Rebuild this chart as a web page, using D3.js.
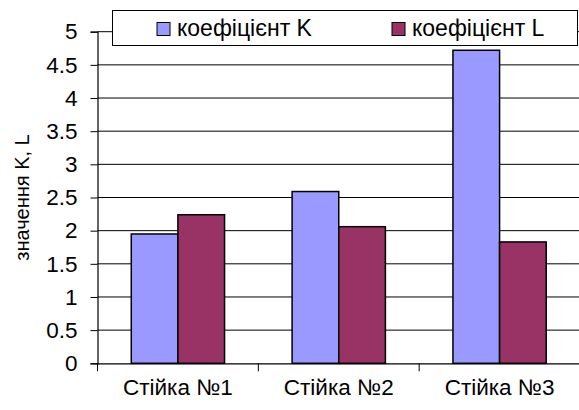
<!DOCTYPE html>
<html>
<head>
<meta charset="utf-8">
<script src="https://cdn.jsdelivr.net/npm/d3@7"></script>
<style>
  html, body { margin: 0; padding: 0; background: #fff; }
  svg { display: block; font-family: "Liberation Sans", Arial, sans-serif; }
</style>
</head>
<body>
<svg id="chart" width="579" height="410"></svg>
<script>
// Coefficient values per stand
const categories = ["Стійка №1", "Стійка №2", "Стійка №3"];
const seriesNames = ["коефіцієнт K", "коефіцієнт L"];
const valuesK = [1.95, 2.59, 4.72];
const valuesL = [2.24, 2.06, 1.83];
const yTicks = [0, 0.5, 1, 1.5, 2, 2.5, 3, 3.5, 4, 4.5, 5];
const yTitle = "значення K, L";
const colors = ["#9999FF", "#993366"];

const svg = d3.select("#chart");
const plot = { left: 97.5, right: 580, top: 31.7, bottom: 363.3 };
const labelSize = 22.5;

const x = d3.scaleBand().domain(categories).range([plot.left, plot.right]);
const y = d3.scaleLinear().domain([0, 5]).range([plot.bottom, plot.top]);
const groupPad = 0.21;
const xs = d3.scaleBand().domain(seriesNames)
  .range([x.bandwidth() * groupPad, x.bandwidth() * (1 - groupPad)]);

// horizontal gridlines
svg.append("g")
  .selectAll("line")
  .data(yTicks.filter(d => d > 0))
  .join("line")
  .attr("x1", plot.left).attr("x2", plot.right)
  .attr("y1", d => y(d)).attr("y2", d => y(d))
  .attr("stroke", "#000").attr("stroke-width", 1);

// bars
const rows = categories.map((c, i) => ({ c, vals: [valuesK[i], valuesL[i]] }));
const groups = svg.append("g").selectAll("g").data(rows).join("g")
  .attr("transform", d => `translate(${x(d.c)},0)`);
groups.selectAll("rect")
  .data(d => d.vals.map((v, j) => ({ v, s: seriesNames[j], j })))
  .join("rect")
  .attr("x", d => xs(d.s))
  .attr("width", xs.bandwidth())
  .attr("y", d => y(d.v))
  .attr("height", d => y(0) - y(d.v))
  .attr("fill", d => colors[d.j])
  .attr("stroke", "#000").attr("stroke-width", 1.5);

// y axis
const yAxis = d3.axisLeft(y).tickValues(yTicks).tickSize(7).tickPadding(13)
  .tickFormat(d => String(d));
const gy = svg.append("g").attr("transform", `translate(${plot.left},0)`).call(yAxis);
gy.select(".domain").attr("stroke", "#000").attr("stroke-width", 1.2);
gy.selectAll(".tick line").attr("stroke", "#000");
gy.selectAll("text").attr("font-size", labelSize).attr("fill", "#000")
  .attr("font-family", "Liberation Sans, Arial, sans-serif");

// x axis
const xAxis = d3.axisBottom(x).tickSize(0).tickPadding(16);
const gx = svg.append("g").attr("transform", `translate(0,${plot.bottom})`).call(xAxis);
gx.select(".domain").attr("stroke", "#000").attr("stroke-width", 1.2);
gx.selectAll("text").attr("font-size", labelSize).attr("fill", "#000")
  .attr("font-family", "Liberation Sans, Arial, sans-serif");
// category separators below the axis
gx.append("g").selectAll("line")
  .data(categories)
  .join("line")
  .attr("x1", d => x(d)).attr("x2", d => x(d))
  .attr("y1", 0).attr("y2", 8)
  .attr("stroke", "#000");

// y title
svg.append("text")
  .attr("transform", `translate(29,${(plot.top + plot.bottom) / 2}) rotate(-90)`)
  .attr("text-anchor", "middle")
  .attr("font-size", 20)
  .text(yTitle);

// legend
const lg = svg.append("g");
lg.append("rect").attr("x", 112.5).attr("y", 10.5).attr("width", 465).attr("height", 35)
  .attr("fill", "#fff").attr("stroke", "#000");
const legendX = [157, 392];
seriesNames.forEach((s, i) => {
  lg.append("rect").attr("x", legendX[i]).attr("y", 22.5).attr("width", 13).attr("height", 13)
    .attr("fill", colors[i]).attr("stroke", "#000").attr("stroke-width", 1);
  lg.append("text").attr("x", legendX[i] + 20).attr("y", 35.5)
    .attr("font-size", 23).text(s);
});
</script>
</body>
</html>
